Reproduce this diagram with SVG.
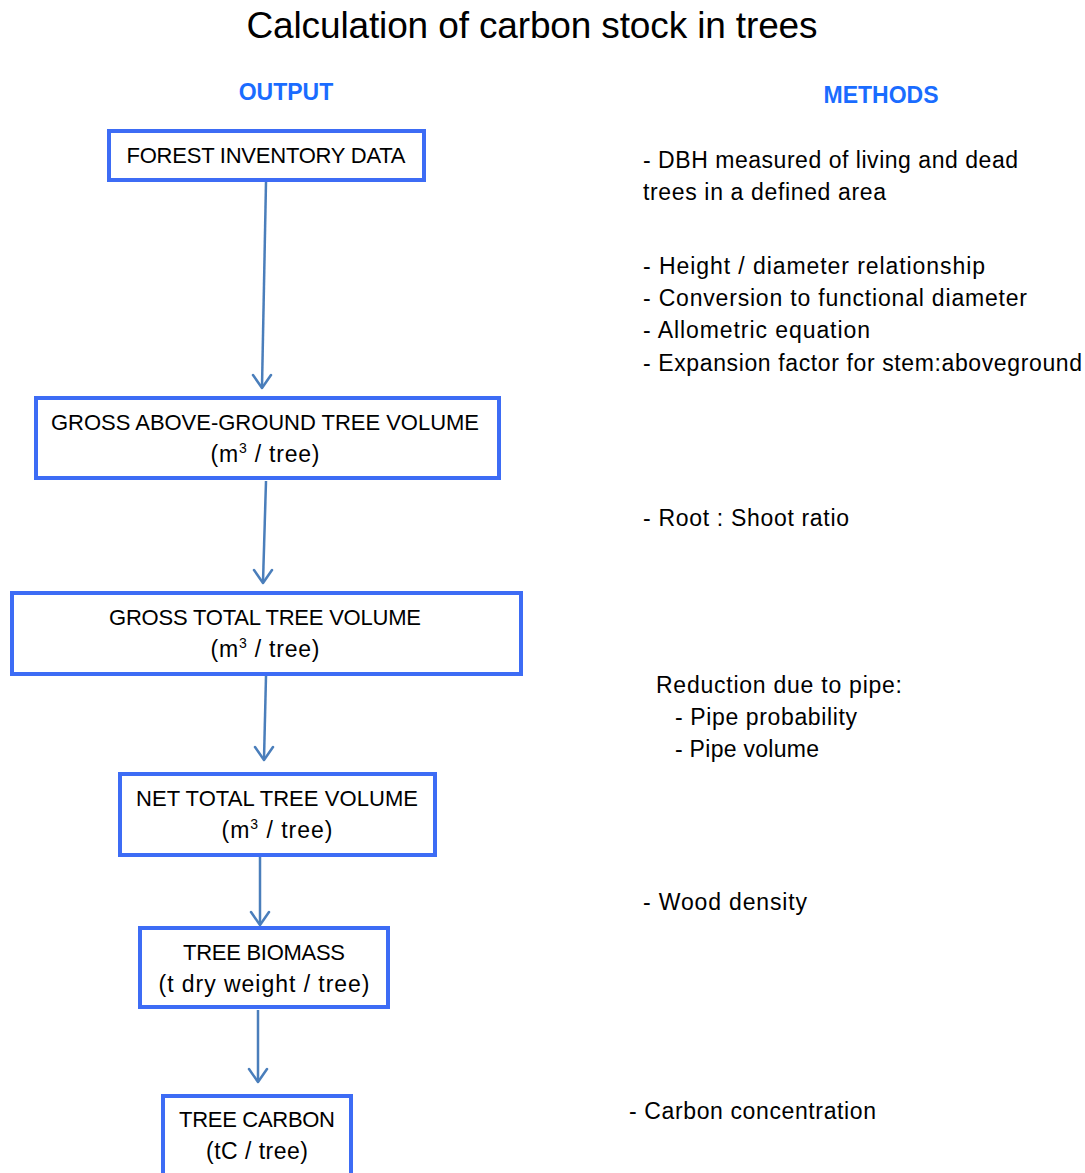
<svg xmlns="http://www.w3.org/2000/svg" width="1085" height="1173" viewBox="0 0 1085 1173">
<style>
.box{fill:#fff;stroke:#3d6cf5;stroke-width:4}
.t{font-family:"Liberation Sans",Arial,sans-serif;font-size:22px;fill:#000}
.l{font-family:"Liberation Sans",Arial,sans-serif;font-size:23px;fill:#000}
.c{text-anchor:middle}
.h{font-family:"Liberation Sans",Arial,sans-serif;font-size:23px;font-weight:bold;fill:#1a6cff}
.conn{stroke:#4a7ebb;stroke-width:2.5;fill:none}
.ah{stroke:#4a7ebb;stroke-width:2.5;fill:none;stroke-linecap:round;stroke-linejoin:round}
</style>
<rect width="1085" height="1173" fill="#fff"/>
<text x="532" y="38" class="t c" style="font-size:37px" textLength="571">Calculation of carbon stock in trees</text>
<text x="286" y="100" class="h c">OUTPUT</text>
<text x="881" y="103" class="h c">METHODS</text>

<g id="connectors">
<line class="conn" x1="266" y1="182" x2="262" y2="387"/>
<polyline class="ah" points="253,375 262,388 271,375"/>
<line class="conn" x1="266" y1="481" x2="263" y2="582"/>
<polyline class="ah" points="254,570 263,583 272,570"/>
<line class="conn" x1="266" y1="676" x2="264" y2="759"/>
<polyline class="ah" points="255,747 264,760 273,747"/>
<line class="conn" x1="260" y1="853" x2="260" y2="924"/>
<polyline class="ah" points="251,912 260,925 269,912"/>
<line class="conn" x1="258" y1="1010" x2="258" y2="1081"/>
<polyline class="ah" points="249,1069 258,1082 267,1069"/>
</g>

<g id="n1">
<rect class="box" x="109" y="131" width="315" height="49"/>
<text x="266" y="163" class="t c" textLength="279">FOREST INVENTORY DATA</text>
</g>
<g id="n2">
<rect class="box" x="36" y="398" width="463" height="80"/>
<text x="265" y="430" class="t c" textLength="428">GROSS ABOVE-GROUND TREE VOLUME</text>
<text x="265" y="462" class="l c" textLength="109">(m<tspan dy="-9" font-size="14">3</tspan><tspan dy="9"> / tree)</tspan></text>
</g>
<g id="n3">
<rect class="box" x="12" y="593" width="509" height="81"/>
<text x="265" y="625" class="t c" textLength="312">GROSS TOTAL TREE VOLUME</text>
<text x="265" y="657" class="l c" textLength="109">(m<tspan dy="-9" font-size="14">3</tspan><tspan dy="9"> / tree)</tspan></text>
</g>
<g id="n4">
<rect class="box" x="120" y="774" width="315" height="81"/>
<text x="277" y="806" class="t c" textLength="282">NET TOTAL TREE VOLUME</text>
<text x="277" y="838" class="l c" textLength="111">(m<tspan dy="-9" font-size="14">3</tspan><tspan dy="9"> / tree)</tspan></text>
</g>
<g id="n5">
<rect class="box" x="140" y="928" width="248" height="79"/>
<text x="264" y="960" class="t c" textLength="162">TREE BIOMASS</text>
<text x="264" y="992" class="l c" textLength="211">(t dry weight / tree)</text>
</g>
<g id="n6">
<rect class="box" x="163" y="1096" width="188" height="90"/>
<text x="257" y="1127" class="t c" textLength="156">TREE CARBON</text>
<text x="257" y="1159" class="l c" textLength="102">(tC / tree)</text>
</g>

<g id="methods">
<text x="643" y="168" class="l" textLength="375">- DBH measured of living and dead</text>
<text x="643" y="200" class="l" textLength="243">trees in a defined area</text>
<text x="643" y="274" class="l" textLength="342">- Height / diameter relationship</text>
<text x="643" y="306" class="l" textLength="384">- Conversion to functional diameter</text>
<text x="643" y="338" class="l" textLength="227">- Allometric equation</text>
<text x="643" y="371" class="l" textLength="439">- Expansion factor for stem:aboveground</text>
<text x="643" y="526" class="l" textLength="206">- Root : Shoot ratio</text>
<text x="656" y="693" class="l" textLength="246">Reduction due to pipe:</text>
<text x="675" y="725" class="l" textLength="182">- Pipe probability</text>
<text x="675" y="757" class="l" textLength="144">- Pipe volume</text>
<text x="643" y="910" class="l" textLength="164">- Wood density</text>
<text x="629" y="1119" class="l" textLength="247">- Carbon concentration</text>
</g>
</svg>
